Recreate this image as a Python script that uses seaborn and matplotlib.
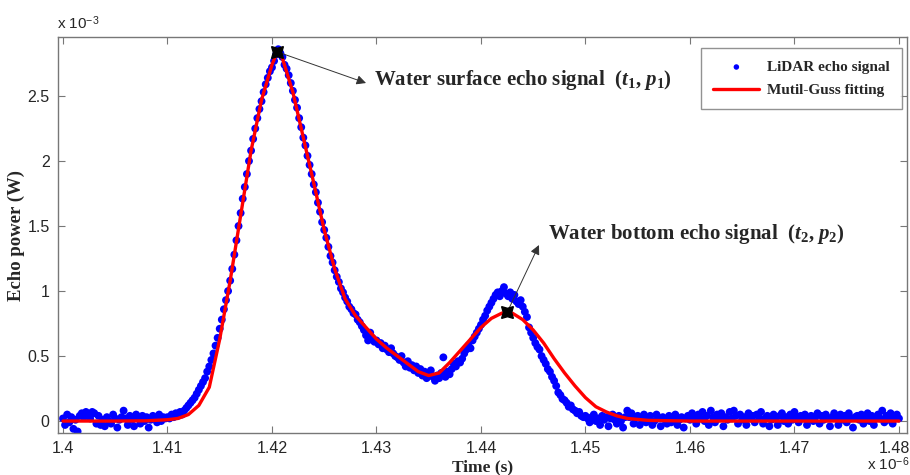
import numpy as np
import seaborn as sns
import matplotlib
matplotlib.use('agg')
import matplotlib.pyplot as plt
from matplotlib.transforms import ScaledTranslation

# time axis in units of 1e-6 s, power in units of 1e-3 W
sample_start = 1.400
sample_step = 0.0002

# LiDAR echo samples, one row per 0.002 (10 samples each)
echo_power = [
    0.02, -0.03, 0.05, -0.01, 0.03, -0.06, 0.01, -0.08, 0.04, 0.06,   # 1.400
    0.03, 0.07, 0.05, 0.02, 0.07, 0.06, -0.02, 0.04, -0.03, 0.01,     # 1.402
    -0.04, 0.03, 0.00, -0.02, 0.05, 0.02, -0.05, 0.01, 0.03, 0.08,    # 1.404
    0.02, -0.03, 0.04, 0.01, -0.04, 0.05, 0.03, -0.02, 0.04, 0.00,    # 1.406
    0.03, -0.05, 0.01, 0.04, 0.02, -0.01, 0.05, 0.00, 0.03, 0.02,     # 1.408
    0.03, 0.02, 0.05, 0.03, 0.06, 0.04, 0.07, 0.05, 0.08, 0.10,       # 1.410
    0.12, 0.14, 0.16, 0.18, 0.21, 0.24, 0.27, 0.30, 0.33, 0.38,       # 1.412
    0.42, 0.47, 0.52, 0.58, 0.64, 0.71, 0.78, 0.86, 0.93, 1.00,       # 1.414
    1.08, 1.17, 1.28, 1.39, 1.50, 1.60, 1.71, 1.80, 1.90, 2.00,       # 1.416
    2.08, 2.17, 2.25, 2.33, 2.40, 2.46, 2.53, 2.59, 2.64, 2.69,       # 1.418
    2.72, 2.77, 2.82, 2.86, 2.83, 2.80, 2.74, 2.71, 2.66, 2.60,       # 1.420
    2.54, 2.47, 2.41, 2.33, 2.26, 2.18, 2.12, 2.04, 1.97, 1.90,       # 1.422
    1.82, 1.76, 1.68, 1.61, 1.53, 1.47, 1.41, 1.34, 1.27, 1.22,       # 1.424
    1.16, 1.11, 1.07, 1.02, 0.99, 0.95, 0.92, 0.88, 0.86, 0.83,       # 1.426
    0.82, 0.78, 0.76, 0.73, 0.70, 0.66, 0.62, 0.68, 0.64, 0.61,       # 1.428
    0.62, 0.59, 0.60, 0.56, 0.58, 0.55, 0.53, 0.56, 0.52, 0.50,       # 1.430
    0.49, 0.47, 0.50, 0.45, 0.42, 0.46, 0.41, 0.43, 0.39, 0.42,       # 1.432
    0.37, 0.40, 0.35, 0.38, 0.33, 0.36, 0.39, 0.34, 0.31, 0.35,       # 1.434
    0.33, 0.37, 0.49, 0.34, 0.38, 0.36, 0.40, 0.44, 0.42, 0.46,       # 1.436
    0.45, 0.48, 0.52, 0.55, 0.58, 0.56, 0.62, 0.65, 0.68, 0.71,       # 1.438
    0.74, 0.78, 0.81, 0.85, 0.88, 0.91, 0.94, 0.97, 0.99, 0.96,       # 1.440
    1.00, 1.03, 0.98, 0.96, 0.99, 0.94, 0.97, 0.92, 0.90, 0.93,       # 1.442
    0.88, 0.84, 0.80, 0.72, 0.68, 0.64, 0.60, 0.57, 0.55, 0.50,       # 1.444
    0.47, 0.44, 0.40, 0.38, 0.34, 0.31, 0.27, 0.22, 0.20, 0.17,       # 1.446
    0.16, 0.14, 0.11, 0.12, 0.09, 0.08, 0.06, 0.07, 0.04, 0.03,       # 1.448
    0.04, 0.02, -0.01, 0.03, 0.05, 0.00, 0.02, -0.03, 0.04, 0.01,     # 1.450
    0.03, -0.04, 0.02, 0.05, 0.01, -0.02, 0.04, 0.00, -0.05, 0.03,    # 1.452
    0.08, 0.03, 0.06, -0.02, 0.02, 0.04, -0.03, 0.01, 0.05, -0.01,    # 1.454
    0.02, 0.04, -0.03, 0.00, 0.05, 0.02, -0.04, 0.03, 0.01, -0.02,    # 1.456
    0.04, -0.01, 0.02, 0.05, -0.03, 0.01, 0.03, -0.05, 0.02, 0.04,    # 1.458
    0.01, 0.06, 0.03, -0.02, 0.05, 0.02, 0.07, 0.00, 0.04, -0.03,     # 1.460
    0.08, 0.03, -0.01, 0.05, 0.02, 0.06, -0.04, 0.03, 0.01, 0.07,     # 1.462
    0.02, 0.08, 0.04, -0.02, 0.05, 0.01, 0.03, -0.03, 0.06, 0.02,     # 1.464
    0.04, -0.01, 0.05, 0.03, 0.07, -0.02, 0.02, 0.04, -0.04, 0.01,    # 1.466
    0.05, 0.02, -0.03, 0.04, 0.06, 0.00, 0.03, -0.02, 0.05, 0.01,     # 1.468
    0.07, 0.03, -0.01, 0.04, 0.02, 0.05, -0.03, 0.02, 0.04, 0.00,     # 1.470
    0.03, 0.06, -0.02, 0.04, 0.01, 0.05, 0.02, -0.04, 0.03, 0.06,     # 1.472
    0.02, -0.03, 0.05, 0.01, 0.04, -0.01, 0.06, 0.02, -0.05, 0.03,    # 1.474
    0.04, 0.01, 0.05, -0.02, 0.03, 0.06, 0.00, 0.04, -0.03, 0.02,     # 1.476
    0.05, 0.02, 0.08, -0.01, 0.04, 0.01, 0.06, -0.02, 0.03, 0.05,     # 1.478
    0.02,                                                             # 1.480
]

# multi-Gaussian fit curve
fit_time = [1.400, 1.405, 1.408, 1.410, 1.411, 1.412, 1.413, 1.414, 1.415,
            1.416, 1.417, 1.418, 1.419, 1.420, 1.4205, 1.421, 1.422, 1.423,
            1.424, 1.425, 1.426, 1.427, 1.428, 1.429, 1.430, 1.431, 1.432,
            1.433, 1.434, 1.435, 1.436, 1.437, 1.438, 1.439, 1.440, 1.441,
            1.442, 1.4425, 1.443, 1.444, 1.445, 1.446, 1.447, 1.448, 1.449,
            1.450, 1.451, 1.452, 1.453, 1.454, 1.456, 1.460, 1.470, 1.480]
fit_power = [0.0, 0.0, 0.002, 0.01, 0.02, 0.05, 0.12, 0.26, 0.63,
             1.08, 1.58, 2.08, 2.47, 2.74, 2.84, 2.79, 2.53, 2.18,
             1.83, 1.47, 1.17, 0.94, 0.81, 0.72, 0.63, 0.56, 0.50,
             0.44, 0.38, 0.35, 0.37, 0.45, 0.54, 0.63, 0.72, 0.79,
             0.83, 0.835, 0.83, 0.78, 0.70, 0.60, 0.48, 0.37, 0.27,
             0.18, 0.11, 0.07, 0.04, 0.02, 0.005, 0.0, 0.0, 0.0]

peak_time = [1.4205, 1.4425]
peak_power = [2.84, 0.835]

x_ticks = [1.40, 1.41, 1.42, 1.43, 1.44, 1.45, 1.46, 1.47, 1.48]
x_labels = ['1.4', '1.41', '1.42', '1.43', '1.44', '1.45', '1.46', '1.47', '1.48']
y_ticks = [0, 0.5, 1.0, 1.5, 2.0, 2.5]
y_labels = ['0', '0.5', '1', '1.5', '2', '2.5']

sns.set_style('ticks')
plt.rcParams['font.family'] = ['Liberation Sans Narrow', 'Liberation Sans', 'DejaVu Sans']
plt.rcParams['mathtext.fontset'] = 'custom'
plt.rcParams['mathtext.rm'] = 'Liberation Serif:bold'
plt.rcParams['mathtext.it'] = 'Liberation Serif:italic:bold'
plt.rcParams['mathtext.bf'] = 'Liberation Serif:bold'

echo_time = sample_start + sample_step * np.arange(len(echo_power))

fig = plt.figure(figsize=(9.1, 4.75), dpi=100)
ax = fig.add_axes([0.0637, 0.0884, 0.933, 0.8337])

sns.scatterplot(x=echo_time, y=echo_power, ax=ax, color='#0000ff', s=32,
                edgecolor='none', linewidth=0, label='LiDAR echo signal', zorder=2)
sns.lineplot(x=fit_time, y=fit_power, ax=ax, color='#ff0000', lw=2.4,
             sort=False, label='Mutil-Guss fitting', zorder=3)
ax.plot(peak_time, peak_power, ls='none', marker=(4, 1, 45), ms=12,
        color='black', zorder=5)

ax.set_xlim(1.39952, 1.48077)
ax.set_ylim(-0.092, 2.954)
ax.set_xticks(x_ticks)
ax.set_xticklabels(x_labels)
ax.set_yticks(y_ticks)
ax.set_yticklabels(y_labels)
ax.tick_params(direction='in', length=5, width=0.8, color='#777777',
               labelsize=11.5, top=True, right=True, pad=6)
for sp in ax.spines.values():
    sp.set_color('#777777')
    sp.set_linewidth(1)
    sp.set_visible(True)

# last x tick label sits right at the figure edge, nudge it in a little
last = ax.get_xticklabels()[-1]
last.set_transform(last.get_transform() + ScaledTranslation(-3 / 72, 0, fig.dpi_scale_trans))

serif = {'family': 'Liberation Serif', 'weight': 'bold'}
ax.set_xlabel('Time (s)', fontdict=serif, fontsize=12.5, labelpad=2)
ax.set_ylabel('Echo power (W)', fontdict=serif, fontsize=13.5)
ax.yaxis.set_label_coords(-0.039, 0.5)
fig.text(0.063, 0.933, r'x 10$^{\mathregular{-3}}$', fontsize=11, ha='left', va='bottom')
fig.text(0.953, 0.004, r'x 10$^{\mathregular{-6}}$', fontsize=11, ha='left', va='bottom')

arrow = dict(arrowstyle='-|>', color='#333333', lw=0.7, mutation_scale=14,
             shrinkA=0, shrinkB=0)
ax.annotate('', xy=(1.4290, 2.60), xytext=(peak_time[0], peak_power[0]),
            arrowprops=arrow)
ax.annotate('', xy=(1.44555, 1.354), xytext=(peak_time[1], peak_power[1]),
            arrowprops=arrow)
ax.text(1.4298, 2.62, r'Water surface echo signal  ($t_1$, $p_1$)',
        fontdict=serif, fontsize=15, va='center', ha='left')
ax.text(1.4464, 1.44, r'Water bottom echo signal  ($t_2$, $p_2$)',
        fontdict=serif, fontsize=15, va='center', ha='left')

leg = ax.legend(loc='upper right', bbox_to_anchor=(0.994, 0.972), borderaxespad=0,
                prop={'family': 'Liberation Serif', 'weight': 'bold', 'size': 11},
                frameon=True, fancybox=False, handlelength=3.0, borderpad=0.8,
                labelspacing=0.6, handletextpad=0.5, markerscale=0.7)
leg.get_frame().set_edgecolor('#777777')
leg.get_frame().set_linewidth(1)

fig.savefig('out.png', dpi=100)
